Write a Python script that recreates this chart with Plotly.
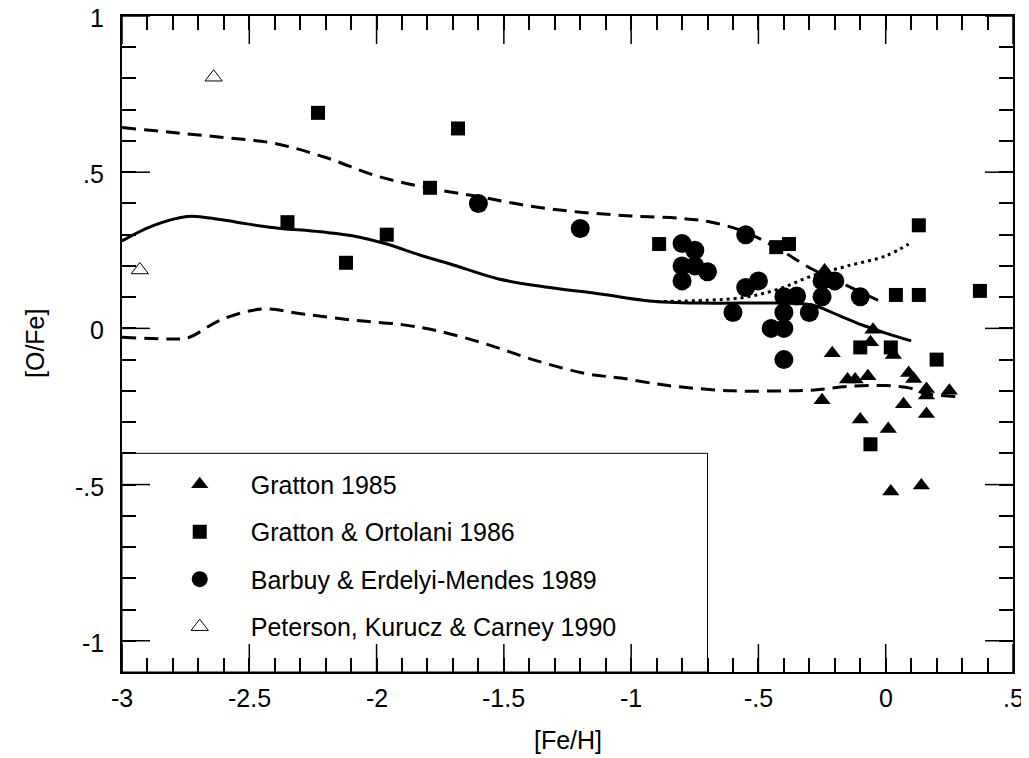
import plotly.graph_objects as go

# [Fe/H], [O/Fe]
gratton85_x = [-0.24, -0.05, -0.06, -0.21, 0.03, 0.09, 0.11, -0.15, -0.12, -0.07,
               0.16, 0.16, 0.25, -0.25, 0.07, 0.16, -0.10, 0.01, 0.02, 0.14]
gratton85_y = [0.185, -0.004, -0.044, -0.08, -0.085, -0.143, -0.162, -0.164, -0.164, -0.153,
               -0.194, -0.215, -0.20, -0.23, -0.243, -0.274, -0.292, -0.322, -0.522, -0.503]

go86_x = [-2.23, -2.35, -2.12, -1.96, -1.79, -1.68, -0.89, -0.43, -0.38, 0.13,
          0.04, 0.13, 0.37, -0.10, 0.02, 0.20, -0.06]
go86_y = [0.69, 0.34, 0.21, 0.30, 0.45, 0.64, 0.27, 0.26, 0.27, 0.33,
          0.107, 0.107, 0.12, -0.061, -0.061, -0.10, -0.371]

bem89_x = [-1.6, -1.2, -0.8, -0.75, -0.8, -0.75, -0.7, -0.8, -0.55, -0.5, -0.55, -0.6,
           -0.4, -0.35, -0.4, -0.45, -0.4, -0.4, -0.3, -0.25, -0.2, -0.25, -0.1]
bem89_y = [0.40, 0.32, 0.272, 0.25, 0.20, 0.20, 0.181, 0.152, 0.30, 0.152, 0.131, 0.051,
           0.101, 0.104, 0.051, 0.0, 0.0, -0.10, 0.051, 0.152, 0.152, 0.101, 0.101]

pkc90_x = [-2.64, -2.93]
pkc90_y = [0.804, 0.187]

upper_x = [-3.0, -2.8, -2.6, -2.4, -2.2, -2.0, -1.8, -1.6, -1.4, -1.2, -1.0, -0.8,
           -0.68, -0.55, -0.42, -0.29, -0.15, -0.03]
upper_y = [0.643, 0.627, 0.611, 0.592, 0.547, 0.488, 0.45, 0.422, 0.392, 0.372, 0.36, 0.352,
           0.339, 0.308, 0.254, 0.19, 0.136, 0.09]

mid_x = [-3.0, -2.88, -2.745, -2.68, -2.55, -2.42, -2.22, -2.09, -1.96, -1.83, -1.71,
         -1.52, -1.32, -1.12, -0.93, -0.73, -0.42, -0.29, -0.18, -0.09, 0.0, 0.10]
mid_y = [0.28, 0.328, 0.358, 0.356, 0.34, 0.324, 0.309, 0.296, 0.27, 0.235, 0.206,
         0.158, 0.131, 0.11, 0.088, 0.081, 0.081, 0.075, 0.04, 0.01, -0.015, -0.04]

dot_x = [-0.9, -0.7, -0.55, -0.42, -0.29, -0.15, 0.0, 0.09]
dot_y = [0.086, 0.09, 0.1, 0.126, 0.168, 0.2, 0.232, 0.27]

lower_x = [-3.0, -2.81, -2.74, -2.615, -2.45, -2.29, -2.09, -1.9, -1.76, -1.57, -1.37,
           -1.17, -1.04, -0.9, -0.8, -0.6, -0.4, -0.28, -0.15, 0.0, 0.1, 0.15, 0.28]
lower_y = [-0.028, -0.034, -0.03, 0.026, 0.062, 0.046, 0.026, 0.012, -0.008, -0.05, -0.104,
           -0.146, -0.159, -0.178, -0.188, -0.2, -0.2, -0.197, -0.186, -0.183, -0.192, -0.208, -0.218]

x_ticks = [-3, -2.5, -2, -1.5, -1, -0.5, 0, 0.5]
x_ticktext = ["-3", "-2.5", "-2", "-1.5", "-1", "-.5", "0", ".5"]
y_ticks = [1, 0.5, 0, -0.5, -1]
y_ticktext = ["1", ".5", "0", "-.5", "-1"]
X_RANGE = [-3, 0.5]
Y_RANGE = [-1.1, 1]

FONT = "Liberation Sans, Arial, sans-serif"
FS = 25
W, H = 1021, 750
M = dict(l=114, r=16, t=8, b=86)
MAJOR_LEN = 28
MINOR_LEN = 14

px_x = (W - M["l"] - M["r"]) / (X_RANGE[1] - X_RANGE[0])
px_y = (H - M["t"] - M["b"]) / (Y_RANGE[1] - Y_RANGE[0])

fig = go.Figure()

# model curves
fig.add_trace(go.Scatter(x=upper_x, y=upper_y, mode="lines", showlegend=False, hoverinfo="skip",
                         line=dict(color="black", width=3, dash="14px,8px", shape="spline")))
fig.add_trace(go.Scatter(x=mid_x, y=mid_y, mode="lines", showlegend=False, hoverinfo="skip",
                         line=dict(color="black", width=3, shape="spline")))
fig.add_trace(go.Scatter(x=dot_x, y=dot_y, mode="lines", showlegend=False, hoverinfo="skip",
                         line=dict(color="black", width=3, dash="3px,4px", shape="spline")))
fig.add_trace(go.Scatter(x=lower_x, y=lower_y, mode="lines", showlegend=False, hoverinfo="skip",
                         line=dict(color="black", width=3, dash="14px,8px", shape="spline")))

# long (major) inside ticks on all four sides; the short ones come from the axes
tx, ty = [], []
dy = MAJOR_LEN / px_y
dx = MAJOR_LEN / px_x
for v in x_ticks:
    tx += [v, v, None, v, v, None]
    ty += [Y_RANGE[0], Y_RANGE[0] + dy, None, Y_RANGE[1], Y_RANGE[1] - dy, None]
for v in y_ticks:
    tx += [X_RANGE[0], X_RANGE[0] + dx, None, X_RANGE[1], X_RANGE[1] - dx, None]
    ty += [v, v, None, v, v, None]
fig.add_trace(go.Scatter(x=tx, y=ty, mode="lines", showlegend=False, hoverinfo="skip",
                         connectgaps=False, line=dict(color="black", width=1.5)))

# observations
fig.add_trace(go.Scatter(x=gratton85_x, y=gratton85_y, mode="markers", name="Gratton 1985",
                         legendgroup="a",
                         marker=dict(symbol="triangle-up", size=15, color="black")))
fig.add_trace(go.Scatter(x=go86_x, y=go86_y, mode="markers", name="Gratton & Ortolani 1986",
                         legendgroup="b",
                         marker=dict(symbol="square", size=14, color="black")))
fig.add_trace(go.Scatter(x=bem89_x, y=bem89_y, mode="markers", name="Barbuy & Erdelyi-Mendes 1989",
                         legendgroup="c",
                         marker=dict(symbol="circle", size=19, color="black")))
fig.add_trace(go.Scatter(x=pkc90_x, y=pkc90_y, mode="markers", name="Peterson, Kurucz & Carney 1990",
                         legendgroup="d",
                         marker=dict(symbol="triangle-up", size=15, color="white",
                                     line=dict(color="black", width=1))))

# legend frame
fig.add_shape(type="rect", x0=-3, x1=-0.7, y0=-1.1, y1=-0.4, xref="x", yref="y",
              line=dict(color="black", width=1), fillcolor="white", layer="below")

# tick labels and axis titles as annotations
lab_font = dict(family=FONT, size=FS, color="black")
for v, t in zip(x_ticks, x_ticktext):
    fig.add_annotation(x=v, xref="x", y=0, yref="paper", yanchor="top", yshift=-10,
                       text=t, showarrow=False, font=lab_font)
for v, t in zip(y_ticks, y_ticktext):
    fig.add_annotation(x=0, xref="paper", xanchor="right", xshift=-16, y=v, yref="y",
                       yshift=-2, text=t, showarrow=False, font=lab_font)
fig.add_annotation(x=0.5, xref="paper", y=0, yref="paper", yanchor="middle", yshift=-68,
                   text="[Fe/H]", showarrow=False, font=lab_font)
fig.add_annotation(x=0, xref="paper", xanchor="center", xshift=-87, y=0.5, yref="paper",
                   text="[O/Fe]", textangle=-90, showarrow=False, font=lab_font)

# short inside ticks every 0.1 drawn by the axes themselves (no labels on the axes)
base = dict(showline=True, linecolor="black", linewidth=1.5, mirror="ticks",
            ticks="inside", ticklen=MINOR_LEN, tickwidth=1.5, tickcolor="black",
            tickmode="linear", tick0=0, dtick=0.1, showticklabels=False,
            showgrid=False, zeroline=False, automargin=False)

fig.update_layout(
    width=W, height=H,
    margin=M,
    paper_bgcolor="white", plot_bgcolor="white",
    font=dict(family=FONT, size=FS, color="black"),
    xaxis=dict(base, range=X_RANGE),
    yaxis=dict(base, range=Y_RANGE),
    legend=dict(x=0.03, y=0.321, xanchor="left", yanchor="top",
                bgcolor="rgba(0,0,0,0)", borderwidth=0,
                tracegroupgap=12, itemwidth=92,
                font=dict(family=FONT, size=FS, color="black")),
)

fig.write_html("out.html")
